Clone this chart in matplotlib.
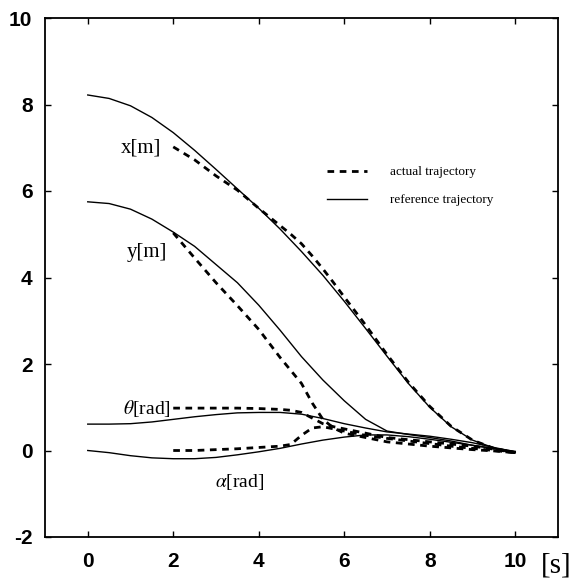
import matplotlib
matplotlib.use("Agg")
import matplotlib.pyplot as plt

plt.rcParams["axes.unicode_minus"] = False

# ---- data ----
t_ref = [0, 0.5, 1, 1.5, 2, 2.5, 3, 3.5, 4, 4.5, 5, 5.5, 6, 6.5, 7, 7.5, 8, 8.5, 9, 9.5, 10]
x_ref = [8.22, 8.14, 7.97, 7.7, 7.35, 6.94, 6.5, 6.05, 5.6, 5.12, 4.6, 4.05, 3.45, 2.82, 2.18, 1.55, 1.0, 0.55, 0.24, 0.06, -0.05]
y_ref = [5.75, 5.71, 5.58, 5.35, 5.05, 4.72, 4.3, 3.88, 3.36, 2.78, 2.17, 1.63, 1.15, 0.72, 0.45, 0.37, 0.3, 0.22, 0.12, 0.04, -0.05]
theta_ref = [0.61, 0.61, 0.62, 0.66, 0.72, 0.78, 0.83, 0.87, 0.88, 0.88, 0.84, 0.74, 0.62, 0.52, 0.43, 0.38, 0.33, 0.26, 0.18, 0.07, -0.03]
alpha_ref = [0.0, -0.05, -0.12, -0.17, -0.19, -0.19, -0.16, -0.1, -0.03, 0.05, 0.15, 0.24, 0.31, 0.36, 0.36, 0.32, 0.26, 0.19, 0.12, 0.05, -0.02]

t_act = [2, 2.5, 3, 3.5, 4, 4.5, 4.75, 5, 5.25, 5.5, 5.75, 6, 6.5, 7, 7.5, 8, 8.5, 9, 9.5, 10]
x_act = [7.02, 6.72, 6.35, 6.02, 5.6, 5.2, 5.0, 4.78, 4.5, 4.2, 3.88, 3.55, 2.9, 2.22, 1.58, 1.02, 0.56, 0.24, 0.05, -0.05]
y_act = [5.03, 4.45, 3.88, 3.35, 2.8, 2.15, 1.85, 1.55, 1.1, 0.72, 0.52, 0.4, 0.3, 0.2, 0.15, 0.1, 0.06, 0.02, -0.01, -0.05]
theta_act = [0.98, 0.98, 0.98, 0.98, 0.97, 0.95, 0.93, 0.88, 0.75, 0.62, 0.55, 0.5, 0.4, 0.3, 0.25, 0.2, 0.15, 0.1, 0.03, -0.05]
alpha_act = [0.0, 0.0, 0.02, 0.04, 0.07, 0.1, 0.14, 0.35, 0.52, 0.55, 0.5, 0.45, 0.35, 0.28, 0.22, 0.16, 0.1, 0.05, 0.0, -0.05]

x_ticks = [0, 2, 4, 6, 8, 10]
y_ticks = [-2, 0, 2, 4, 6, 8, 10]

fig = plt.figure(figsize=(5.79, 5.81), dpi=100)
ax = fig.add_axes([45/579, 1-537/581, 513/579, 519/581])
ax.set_xlim(-1, 11)
ax.set_ylim(-2, 10)

dash = (0, (2.4, 2.0))
solid_kw = dict(color="black", lw=1.0)
dash_kw = dict(color="black", lw=2.0, linestyle=dash)

ax.plot(t_act, x_act, label="actual trajectory", **dash_kw)
ax.plot(t_ref, x_ref, label="reference trajectory", **solid_kw)
for a in (y_act, theta_act, alpha_act):
    ax.plot(t_act, a, **dash_kw)
for r in (y_ref, theta_ref, alpha_ref):
    ax.plot(t_ref, r, **solid_kw)

ax.set_xticks(x_ticks)
ax.set_yticks(y_ticks)
ax.tick_params(direction="in", top=True, right=True, length=4, width=1,
               labelsize=15, pad=9)
ax.tick_params(axis="x", pad=11)
for lab in ax.get_xticklabels() + ax.get_yticklabels():
    lab.set_fontfamily("Liberation Sans")
    lab.set_fontweight("bold")
for s in ax.spines.values():
    s.set_linewidth(1.3)

serif = "Liberation Serif"
ax.text(1.72, 7.0, "x[m]", family=serif, fontsize=15, ha="right", va="center")
ax.text(1.85, 4.58, "y[m]", family=serif, fontsize=15, ha="right", va="center")
ax.text(1.95, 0.98, r"$\theta$[rad]", family=serif, fontsize=14, ha="right", va="center",
        math_fontfamily="stix")
ax.text(3.55, -0.72, r"$\alpha$[rad]", family=serif, fontsize=14, ha="center", va="center",
        math_fontfamily="stix")
ax.text(10.6, -2.66, "[s]", family=serif, fontsize=21, ha="left", va="center", clip_on=False)

leg = ax.legend(loc="upper left", bbox_to_anchor=(0.55, 0.715), frameon=False,
                prop={"family": serif, "size": 9.5}, handlelength=3.0,
                handletextpad=1.8, labelspacing=1.2, borderpad=0, borderaxespad=0)

fig.savefig("out.png", dpi=100)
